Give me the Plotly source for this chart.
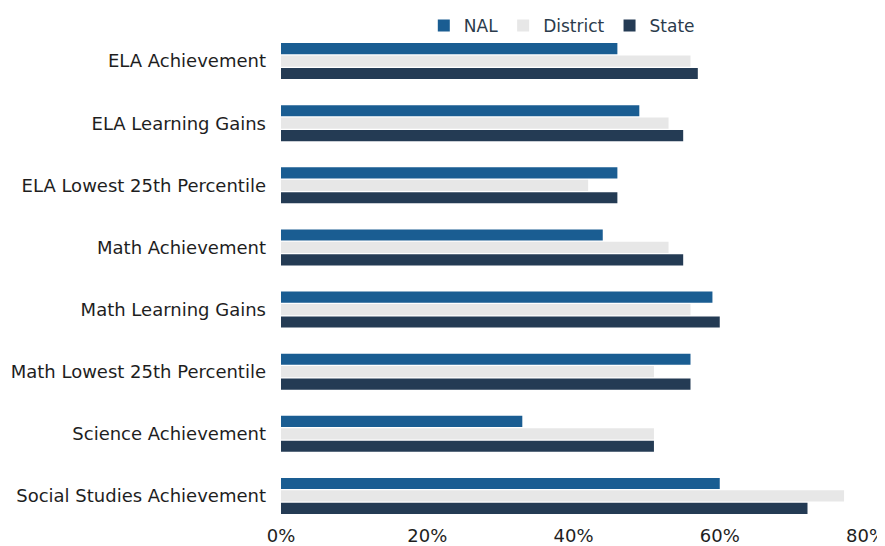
import plotly.graph_objects as go

categories = ["ELA Achievement", "ELA Learning Gains", "ELA Lowest 25th Percentile",
              "Math Achievement", "Math Learning Gains", "Math Lowest 25th Percentile",
              "Science Achievement", "Social Studies Achievement"]
nal = [46, 49, 46, 44, 59, 56, 33, 60]
district = [56, 53, 42, 53, 56, 51, 51, 77]
state = [57, 55, 46, 55, 60, 56, 51, 72]
tick_vals = [0, 20, 40, 60, 80]
tick_text = ["0%", "20%", "40%", "60%", "80%"]

series = [("NAL", nal, "#1a5d92"), ("District", district, "#e7e7e7"), ("State", state, "#243b54")]

fig = go.Figure()
for name, vals, color in series:
    fig.add_trace(go.Bar(y=categories, x=vals, name=name, orientation="h",
                         marker=dict(color=color, line=dict(width=0))))

font_family = "'DejaVu Sans', sans-serif"
H = 538
T_PLOT = 22  # plot top inside figure
B = 19
fig.update_layout(
    width=877, height=H,
    margin=dict(l=273, r=19, t=0, b=B),
    paper_bgcolor="white", plot_bgcolor="white",
    barmode="group", bargap=0.4, bargroupgap=0.1,
    font=dict(family=font_family, size=18, color="#1e1e1e"),
    showlegend=True,
    legend=dict(orientation="h", x=0.48, xanchor="center",
                y=1.0, yanchor="top",
                font=dict(size=17, color="#2b3b4c"), itemwidth=30, traceorder="normal",
                bgcolor="rgba(0,0,0,0)"),
    xaxis=dict(range=[0, 80], tickvals=tick_vals, ticktext=tick_text, showgrid=False,
               zeroline=False, showline=False, automargin=False, fixedrange=True,
               ticklabelstandoff=-4, ticklabeloverflow="allow",
               tickfont=dict(size=18, color="#1e1e1e")),
    yaxis=dict(autorange="reversed", showgrid=False, zeroline=False, showline=False,
               automargin=False, ticklabelstandoff=14,
               domain=[0, (H - B - T_PLOT) / (H - B)],
               tickfont=dict(size=18, color="#1e1e1e")),
)

fig.write_html("out.html")
